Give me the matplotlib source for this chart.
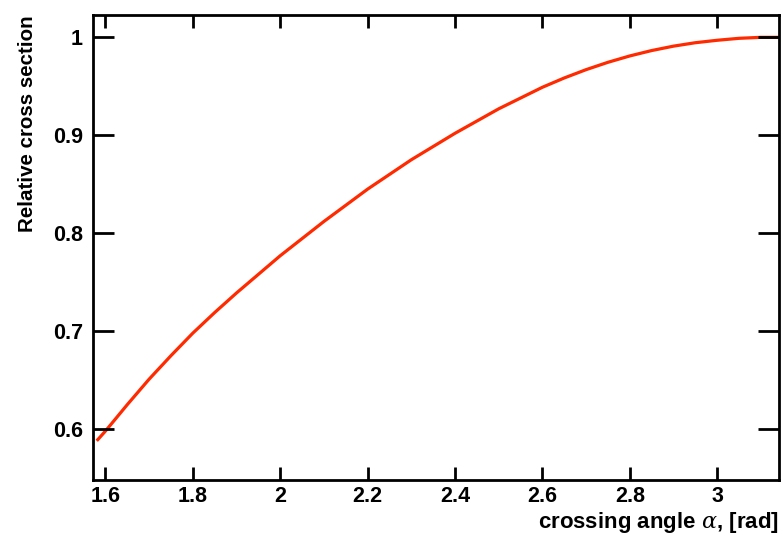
import numpy as np
import matplotlib
matplotlib.use("Agg")
import matplotlib.pyplot as plt

plt.rcParams['font.family'] = ['Liberation Sans', 'DejaVu Sans']
plt.rcParams['mathtext.fontset'] = 'dejavuserif'

angle = [1.58, 1.6, 1.65, 1.7, 1.75, 1.8, 1.85, 1.9, 1.95, 2.0, 2.1, 2.2, 2.3, 2.4, 2.5,
         2.6, 2.65, 2.7, 2.75, 2.8, 2.85, 2.9, 2.95, 3.0, 3.05, 3.1, 3.1416]
rel_xsec = [0.588, 0.598, 0.625, 0.651, 0.675, 0.698, 0.719, 0.739, 0.758, 0.777, 0.812, 0.845, 0.875, 0.902, 0.927,
            0.949, 0.9585, 0.967, 0.9745, 0.981, 0.9865, 0.991, 0.9945, 0.997, 0.999, 1.000, 1.000]
xticks = [1.6, 1.8, 2.0, 2.2, 2.4, 2.6, 2.8, 3.0]
xticklabels = ["1.6", "1.8", "2", "2.2", "2.4", "2.6", "2.8", "3"]
yticks = [0.6, 0.7, 0.8, 0.9, 1.0]
yticklabels = ["0.6", "0.7", "0.8", "0.9", "1"]

fig = plt.figure(figsize=(7.83, 5.38), dpi=100)
ax = fig.add_axes([0.1184, 0.1078, 0.8765, 0.8643])
ax.plot(angle, rel_xsec, color='#ff2a00', lw=2.3, solid_capstyle='butt',
        solid_joinstyle='round', zorder=1)

ax.set_xlim(np.pi / 2, np.pi)
ax.set_ylim(0.548, 1.0228)
ax.set_xticks(xticks)
ax.set_xticklabels(xticklabels)
ax.set_yticks(yticks)
ax.set_yticklabels(yticklabels)

for s in ax.spines.values():
    s.set_linewidth(2.0)
    s.set_zorder(3)

ax.tick_params(axis='x', which='major', direction='in', length=9.5, width=2.0,
               top=True, bottom=True, labelsize=15.5, pad=4)
ax.tick_params(axis='y', which='major', direction='in', length=15, width=2.0,
               left=True, right=True, labelsize=15.5, pad=7)
for lab in ax.get_xticklabels() + ax.get_yticklabels():
    lab.set_fontweight('bold')

fig.text(0.9949, 0.0297, r"crossing angle $\alpha$, [rad]", ha='right', va='center',
         fontsize=16, fontweight='bold')
fig.text(0.035, 0.9721, "Relative cross section", ha='center', va='top',
         rotation=90, fontsize=14.8, fontweight='bold')

fig.savefig("out.png", dpi=100)
